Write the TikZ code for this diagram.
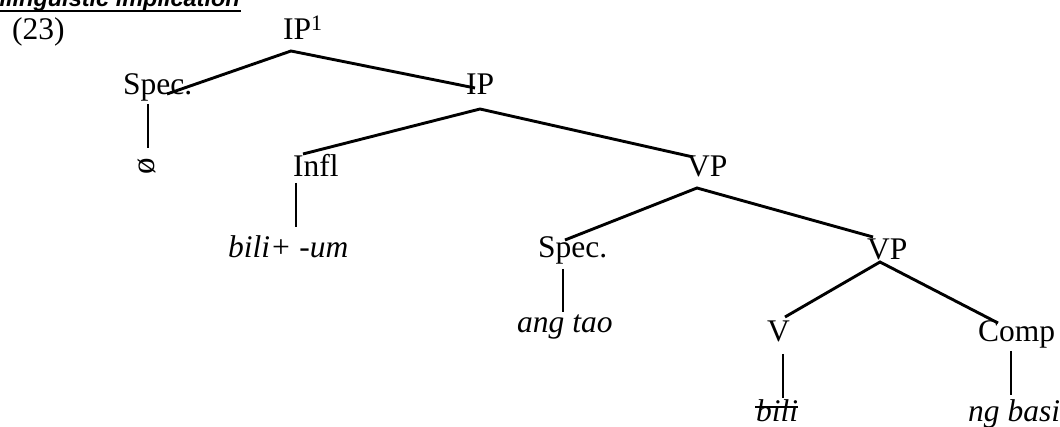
\documentclass[tikz,border=0pt]{standalone}
\usepackage{fontspec}
\setmainfont{Liberation Serif}
\newfontfamily\hdrfont{Liberation Sans}
\begin{document}
\begin{tikzpicture}[x=1pt,y=-1pt,
  lab/.style={inner sep=0pt,anchor=base west,font=\fontsize{31.5}{36}\selectfont},
  ilab/.style={lab,font=\fontsize{31.5}{36}\selectfont\itshape},
  branch/.style={line width=2.9pt,line cap=butt},
  strike/.style={line width=2pt}]
\clip (0,0) rectangle (1060,427);
\useasboundingbox (0,0) rectangle (1060,427);
% header (cut off at top)
\node[inner sep=0pt,anchor=base east,font=\fontsize{23.5}{28}\hdrfont\bfseries\itshape] (hdr) at (240,7) {ilinguistic implication};
\coordinate (hdrl) at (0,11);
\coordinate (hdrr) at (241,11);
\draw[line width=2.2pt] (hdrl) -- (hdrr);
% labels
\node[lab] (ex) at (12,40) {(23)};
\node[lab] (ip1) at (283,40) {IP\textsuperscript{1}};
\node[lab] (spec1) at (123,95) {Spec.};
\node[inner sep=0pt,font=\fontsize{33}{36}\selectfont,rotate=90] (null) at (147,166) {ø};
\node[lab] (ip2) at (466,95) {IP};
\node[lab] (infl) at (293,177) {Infl};
\node[lab] (vp1) at (687,177) {VP};
\node[ilab] (bilium) at (228,258) {bili+ -um};
\node[lab] (spec2) at (538,258) {Spec.};
\node[lab] (vp2) at (867,260) {VP};
\node[ilab] (angtao) at (517,333) {ang tao};
\node[lab] (v) at (767,342) {V};
\node[lab] (comp) at (978,342) {Comp};
\node[ilab] (bili) at (756,421) {bili};
\node[ilab] (ngbasi) at (968,421) {ng basi};
% connector end points
\coordinate (ip1-b) at (291,51);
\coordinate (spec1-t) at (167,94);
\coordinate (ip2-t) at (475,88);
\coordinate (spec1-b) at (148,104);
\coordinate (null-t) at (148,148);
\coordinate (ip2-b) at (480,109);
\coordinate (infl-t) at (303,154);
\coordinate (vp1-t) at (693,157);
\coordinate (infl-b) at (296,183);
\coordinate (bilium-t) at (296,227);
\coordinate (vp1-b) at (697,188);
\coordinate (spec2-t) at (565,240);
\coordinate (vp2-t) at (873,237);
\coordinate (spec2-b) at (563,269);
\coordinate (angtao-t) at (563,312);
\coordinate (vp2-b) at (880,262);
\coordinate (v-t) at (785,317);
\coordinate (comp-t) at (998,323);
\coordinate (v-b) at (783,354);
\coordinate (bili-t) at (783,398);
\coordinate (comp-b) at (1011,351);
\coordinate (ngbasi-t) at (1011,395);
\coordinate (strike-l) at (755,407);
\coordinate (strike-r) at (798,407);
% branches
\draw[branch] (spec1-t) -- (ip1-b) -- (ip2-t);
\draw[branch] (spec1-b) -- (null-t);
\draw[branch] (infl-t) -- (ip2-b) -- (vp1-t);
\draw[branch] (infl-b) -- (bilium-t);
\draw[branch] (spec2-t) -- (vp1-b) -- (vp2-t);
\draw[branch] (spec2-b) -- (angtao-t);
\draw[branch] (v-t) -- (vp2-b) -- (comp-t);
\draw[branch] (v-b) -- (bili-t);
\draw[branch] (comp-b) -- (ngbasi-t);
\draw[strike] (strike-l) -- (strike-r);
\end{tikzpicture}
\end{document}
